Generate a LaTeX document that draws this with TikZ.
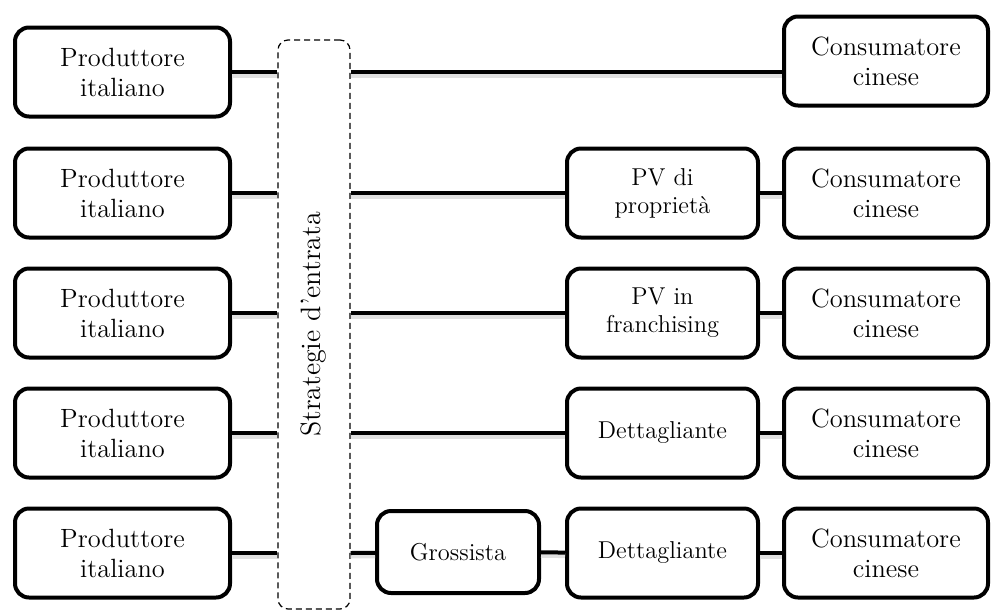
\documentclass[tikz,border=0pt]{standalone}
\usetikzlibrary{positioning}

\begin{document}
\begin{tikzpicture}[x=0.5pt,y=-0.5pt,
  bigbox/.style={draw,line width=2pt,rounded corners=7pt,align=center,
    minimum height=44.5pt,inner sep=2pt,font=\fontsize{13.2}{15}\selectfont},
  prodbox/.style={bigbox,minimum width=107.5pt},
  consbox/.style={bigbox,minimum width=102pt},
  midbox/.style={bigbox,minimum width=95.5pt,font=\fontsize{12.2}{14}\selectfont},
  stratbox/.style={draw,line width=0.6pt,rounded corners=5pt,dash pattern=on 3pt off 2pt},
  link/.style={line width=2pt,
    preaction={draw=black!12,line width=2.5pt,transform canvas={yshift=-1.5pt}}}]
  \useasboundingbox (0,0) rectangle (991,612);

  % Producers on the left, consumers on the right.
  \foreach \i/\y in {1/72,2/193,3/313,4/433,5/553}
    {\node[prodbox] (prod\i) at (122.5,\y) {Produttore\\italiano};}
  \foreach \i/\y in {1/61,2/193,3/313,4/433,5/553}
    {\node[consbox] (cons\i) at (886,\y) {Consumatore\\cinese};}

  % Entry strategies band.
  \node[stratbox,minimum width=36pt,minimum height=284.5pt,
    label={[rotate=90,font=\fontsize{14}{16}\selectfont]center:Strategie d'entrata}]
    (strat) at (314,324.5) {};

  % Intermediaries.
  \node[midbox] (mid2) at (662.5,193) {PV di\\proprietà};
  \node[midbox] (mid3) at (662.5,313) {PV in\\franchising};
  \node[midbox] (mid4) at (662.5,433) {Dettagliante};
  \node[midbox] (mid5) at (662.5,553) {Dettagliante};
  \node[midbox,minimum width=81pt,minimum height=41pt] (gros) at (458,552) {Grossista};

  % Channels.
  \foreach \i in {1,...,5}
    {\draw[link] (prod\i) -- (prod\i -| strat.west);}
  \draw[link] (prod1 -| strat.east) -- (prod1 -| cons1.west);
  \foreach \i in {2,3,4}
    {\draw[link] (prod\i -| strat.east) -- (mid\i);
     \draw[link] (mid\i) -- (cons\i);}
  \draw[link] (prod5 -| strat.east) -- (gros);
  \draw[link] (gros) -- (mid5);
  \draw[link] (mid5) -- (cons5);
\end{tikzpicture}
\end{document}
